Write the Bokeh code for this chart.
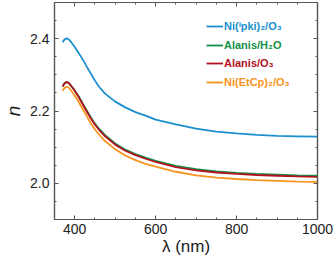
from bokeh.plotting import figure
from bokeh.models import (Range1d, SingleIntervalTicker, LinearAxis, Legend, LegendItem,
                          PrintfTickFormatter, CustomJSTickFormatter)
from bokeh.embed import file_html
from bokeh.resources import INLINE

wavelength = [370, 375, 380, 385, 390, 400, 410, 420, 430, 440, 450, 460, 475,
              500, 525, 550, 575, 600, 650, 700, 750, 800, 850, 900, 950, 1000]

n_ni_pki = [2.390, 2.398, 2.401, 2.398, 2.392, 2.377, 2.360, 2.342, 2.322, 2.303,
            2.284, 2.267, 2.248, 2.226, 2.210, 2.197, 2.187, 2.176, 2.163, 2.151,
            2.143, 2.138, 2.134, 2.131, 2.130, 2.129]
n_alanis_h2o = [2.268, 2.277, 2.280, 2.278, 2.271, 2.257, 2.240, 2.220, 2.201, 2.182,
                2.165, 2.151, 2.133, 2.110, 2.093, 2.081, 2.071, 2.062, 2.048, 2.039,
                2.033, 2.029, 2.026, 2.024, 2.022, 2.021]
n_alanis_o3 = [2.268, 2.277, 2.280, 2.278, 2.271, 2.256, 2.238, 2.218, 2.198, 2.179,
               2.162, 2.148, 2.130, 2.107, 2.090, 2.078, 2.068, 2.059, 2.045, 2.036,
               2.030, 2.026, 2.023, 2.021, 2.019, 2.018]
n_ni_etcp = [2.256, 2.264, 2.267, 2.265, 2.258, 2.243, 2.225, 2.205, 2.185, 2.166,
             2.149, 2.135, 2.117, 2.094, 2.077, 2.064, 2.054, 2.046, 2.032, 2.022,
             2.016, 2.012, 2.009, 2.007, 2.005, 2.004]

labels = ["Ni(\u2071pki)\u2082/O\u2083", "Alanis/H\u2082O", "Alanis/O\u2083",
          "Ni(EtCp)\u2082/O\u2083"]
colors = ["#1a8fcf", "#13904a", "#b3121f", "#f7941d"]
series = [n_ni_pki, n_alanis_h2o, n_alanis_o3, n_ni_etcp]

x_title = "\u03bb (nm)"
y_title = "n"

FONT = "Liberation Sans"
FRAME = "#555555"
TXT = "#222222"

p = figure(width=335, height=265, output_backend="svg", toolbar_location=None,
           x_range=Range1d(350, 1000), y_range=Range1d(1.9, 2.5),
           min_border_left=51, min_border_right=18, min_border_top=2,
           min_border_bottom=46, x_axis_type=None, y_axis_type=None)
p.background_fill_color = "white"
p.border_fill_color = "white"
p.outline_line_color = FRAME
p.outline_line_width = 1.2
p.xgrid.visible = False
p.ygrid.visible = False


def style_axis(ax, show_labels):
    ax.axis_line_color = FRAME
    ax.axis_line_width = 1.2
    ax.major_tick_line_color = FRAME
    ax.minor_tick_line_color = FRAME
    ax.major_tick_in = 4
    ax.major_tick_out = 0
    ax.minor_tick_in = 2
    ax.minor_tick_out = 0
    if show_labels:
        ax.major_label_text_font = FONT
        ax.major_label_text_font_size = "14px"
        ax.major_label_text_color = TXT
        ax.major_label_standoff = 4
        ax.axis_label_text_font = FONT
        ax.axis_label_text_color = TXT
    else:
        ax.formatter = CustomJSTickFormatter(code="return '';")
        ax.major_label_standoff = 0


xt = SingleIntervalTicker(interval=200, num_minor_ticks=4)
yt = SingleIntervalTicker(interval=0.2, num_minor_ticks=4)

xb = LinearAxis(ticker=xt, axis_label=x_title)
style_axis(xb, True)
xb.axis_label_text_font_size = "17px"
xb.axis_label_text_font_style = "normal"
xb.axis_label_standoff = 0
p.add_layout(xb, "below")

yl = LinearAxis(ticker=yt, formatter=PrintfTickFormatter(format="%.1f"),
                axis_label=y_title)
style_axis(yl, True)
yl.major_label_standoff = 5
yl.axis_label_text_font_size = "19px"
yl.axis_label_text_font_style = "italic"
yl.axis_label_standoff = 3
p.add_layout(yl, "left")

xtop = LinearAxis(ticker=xt)
style_axis(xtop, False)
p.add_layout(xtop, "above")

yr = LinearAxis(ticker=yt)
style_axis(yr, False)
p.add_layout(yr, "right")

renderers = []
for ys, c in zip(series, colors):
    r = p.line(wavelength, ys, line_color=c, line_width=1.8)
    renderers.append(r)

# one legend per entry so each label gets its own colour
row_bottom = [186, 168, 150, 131]
for lab, c, r, yy in zip(labels, colors, renderers, row_bottom):
    lg = Legend(items=[LegendItem(label=lab, renderers=[r])], location=(152, yy),
                orientation="vertical")
    lg.background_fill_alpha = 0
    lg.border_line_alpha = 0
    lg.label_text_color = c
    lg.label_text_font = FONT
    lg.label_text_font_size = "11px"
    lg.label_text_font_style = "bold"
    lg.glyph_width = 17
    lg.glyph_height = 12
    lg.label_standoff = 1
    lg.padding = 0
    lg.margin = 0
    lg.spacing = 0
    lg.label_height = 12
    p.add_layout(lg, "center")

open("out.html", "w").write(file_html(p, INLINE))
